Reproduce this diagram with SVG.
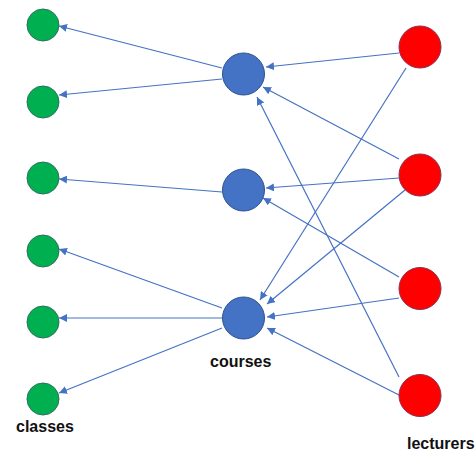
<svg xmlns="http://www.w3.org/2000/svg" width="476" height="454" viewBox="0 0 476 454">
<style>
.cls{fill:#00B050;stroke:#2F6F5F;stroke-width:1}
.crs{fill:#4472C4;stroke:#2F528F;stroke-width:1}
.lec{fill:#FF0000;stroke:#8B2F4F;stroke-width:1}
.e{stroke:#4472C4;stroke-width:1.2;fill:none;marker-end:url(#ah)}
text{font-family:"Liberation Sans",Arial,sans-serif;font-weight:bold;font-size:16px;fill:#111}
</style>
<defs>
<marker id="ah" viewBox="0 0 10 10" refX="10" refY="5" markerWidth="8" markerHeight="8" markerUnits="userSpaceOnUse" orient="auto">
<path d="M0,0 L10,5 L0,10 z" fill="#4472C4"/>
</marker>
</defs>
<rect width="476" height="454" fill="#fff"/>
<g id="connectors">
<line class="e" x1="222" y1="68" x2="59" y2="26"/>
<line class="e" x1="222" y1="79" x2="59" y2="95"/>
<line class="e" x1="222" y1="192" x2="59" y2="179"/>
<line class="e" x1="222" y1="308" x2="59" y2="249"/>
<line class="e" x1="222" y1="318" x2="59" y2="318"/>
<line class="e" x1="222" y1="328" x2="59" y2="393"/>
<line class="e" x1="399" y1="53" x2="266" y2="67"/>
<line class="e" x1="399" y1="159" x2="263" y2="87"/>
<line class="e" x1="399" y1="377" x2="257" y2="97"/>
<line class="e" x1="399" y1="178" x2="266" y2="188"/>
<line class="e" x1="399" y1="277" x2="263" y2="198"/>
<line class="e" x1="406" y1="68" x2="260" y2="300"/>
<line class="e" x1="405" y1="190" x2="267" y2="304"/>
<line class="e" x1="399" y1="298" x2="267" y2="317"/>
<line class="e" x1="399" y1="395" x2="267" y2="328"/>
</g>
<g id="class1"><circle class="cls" cx="43" cy="25" r="16"/></g>
<g id="class2"><circle class="cls" cx="43" cy="102" r="16"/></g>
<g id="class3"><circle class="cls" cx="43" cy="178" r="16"/></g>
<g id="class4"><circle class="cls" cx="43" cy="251" r="16"/></g>
<g id="class5"><circle class="cls" cx="43" cy="322" r="16"/></g>
<g id="class6"><circle class="cls" cx="43" cy="399" r="16"/><text x="16" y="432">classes</text></g>
<g id="course1"><circle class="crs" cx="243.5" cy="74" r="21"/></g>
<g id="course2"><circle class="crs" cx="243.5" cy="190" r="21"/></g>
<g id="course3"><circle class="crs" cx="243.5" cy="318" r="21"/><text x="210" y="367">courses</text></g>
<g id="lecturer1"><circle class="lec" cx="420" cy="47" r="21"/></g>
<g id="lecturer2"><circle class="lec" cx="420" cy="175" r="21"/></g>
<g id="lecturer3"><circle class="lec" cx="420" cy="288.5" r="21"/></g>
<g id="lecturer4"><circle class="lec" cx="420" cy="395.5" r="21"/><text x="407" y="449">lecturers</text></g>
</svg>
